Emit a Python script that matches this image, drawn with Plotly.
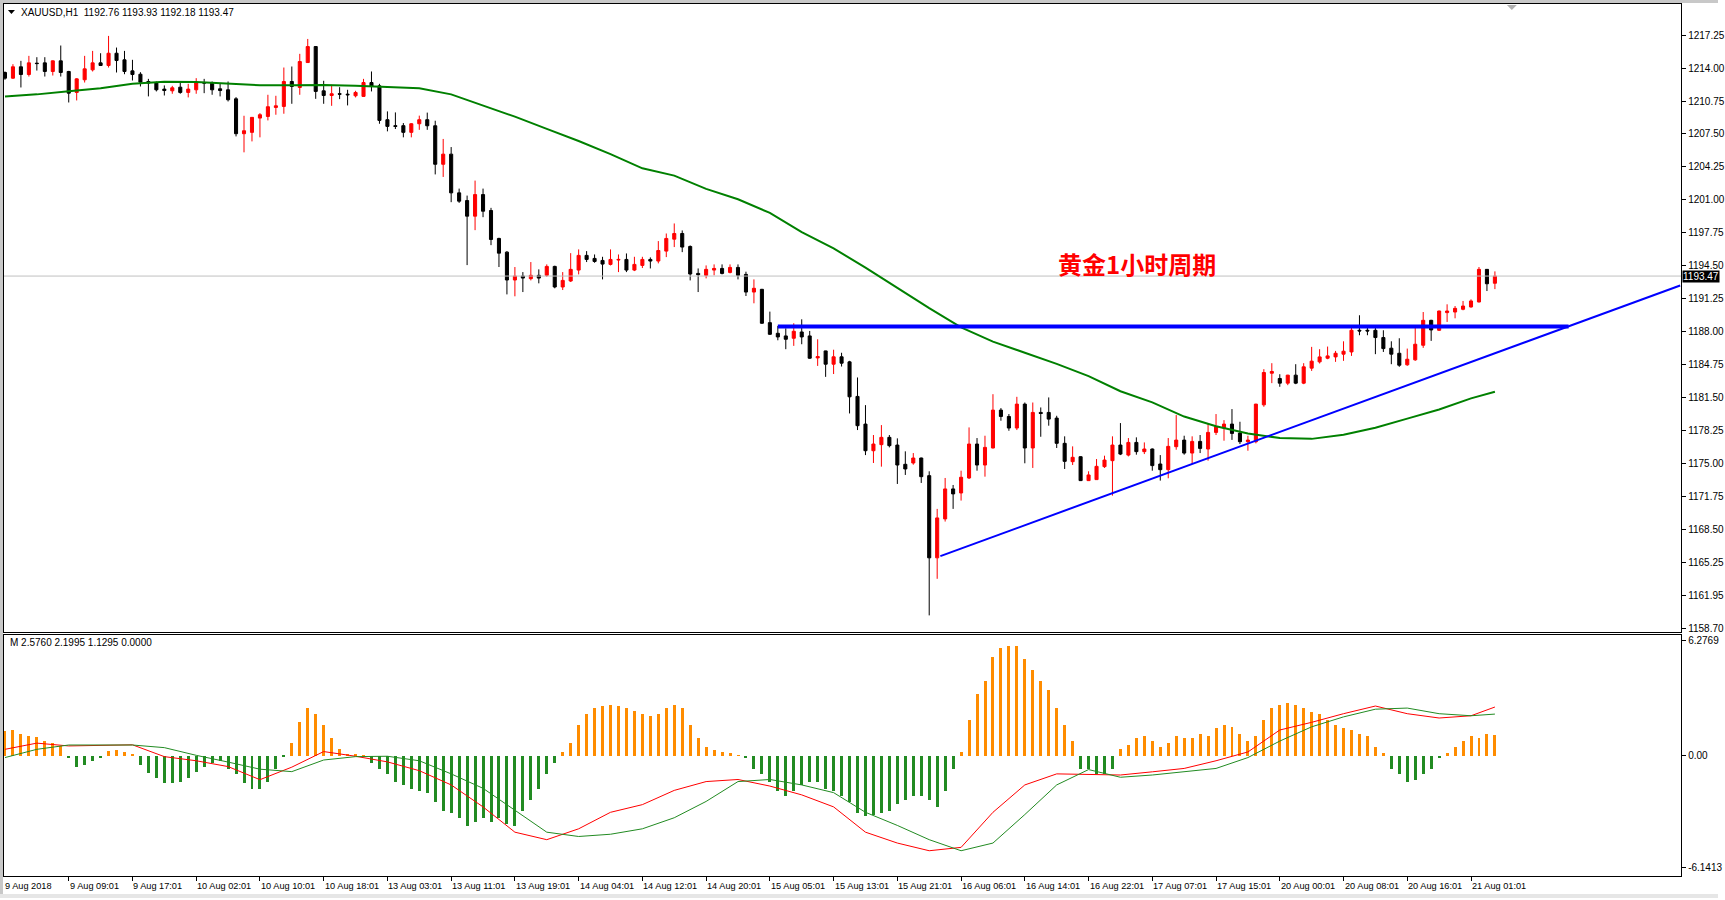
import plotly.graph_objects as go

W, H = 1725, 900

# ---------------- data ----------------
symbol_header = "XAUUSD,H1  1192.76 1193.93 1192.18 1193.47"
macd_header = "M 2.5760 2.1995 1.1295 0.0000"
title_text = "黄金1小时周期"

open_ = [1213.56, 1213.00, 1214.12, 1213.36, 1214.48, 1214.51, 1213.66, 1214.71, 1213.66, 1211.59,
         1212.84, 1213.82, 1214.51, 1214.25, 1215.46, 1214.81, 1213.72, 1213.39, 1212.67, 1212.51,
         1211.92, 1211.75, 1212.11, 1211.59, 1211.85, 1212.57, 1212.57, 1211.95, 1211.85, 1210.96,
         1207.52, 1207.65, 1209.06, 1209.22, 1210.11, 1210.21, 1212.67, 1212.08, 1214.54, 1216.12,
         1211.75, 1211.29, 1211.46, 1211.42, 1211.26, 1211.20, 1212.57, 1212.24, 1208.90, 1208.31,
         1208.31, 1207.65, 1208.50, 1208.90, 1208.30, 1204.50, 1205.50, 1201.68, 1200.92, 1199.38,
         1201.51, 1199.94, 1197.18, 1195.83, 1193.08, 1193.47, 1193.21, 1193.54, 1193.54, 1194.42,
         1192.39, 1192.98, 1194.06, 1195.51, 1195.21, 1195.01, 1194.62, 1195.05, 1195.11, 1194.06,
         1194.52, 1195.11, 1194.95, 1195.93, 1197.11, 1197.67, 1196.39, 1193.73, 1193.54, 1194.06,
         1194.22, 1193.83, 1194.32, 1193.63, 1191.89, 1192.16, 1188.87, 1187.82, 1187.56, 1187.33,
         1187.95, 1187.56, 1185.39, 1186.08, 1184.77, 1185.50, 1185.00, 1181.59, 1178.86, 1176.23,
         1176.83, 1177.55, 1176.79, 1174.89, 1175.02, 1175.51, 1173.77, 1165.66, 1169.50, 1172.46,
         1172.06, 1173.54, 1176.89, 1174.82, 1176.50, 1180.24, 1179.61, 1178.47, 1180.83, 1176.50,
         1180.01, 1180.01, 1179.45, 1176.96, 1175.15, 1175.64, 1173.28, 1173.38, 1174.66, 1175.25,
         1176.79, 1175.80, 1177.05, 1176.14, 1176.40, 1174.92, 1174.36, 1176.63, 1177.28, 1176.00,
         1177.15, 1176.40, 1178.04, 1178.47, 1178.86, 1177.97, 1177.12, 1177.12, 1180.76, 1183.88,
         1183.36, 1182.90, 1183.69, 1182.90, 1184.38, 1185.00, 1185.36, 1185.49, 1185.76, 1185.98,
         1188.12, 1188.12, 1188.12, 1187.40, 1186.35, 1185.85, 1184.71, 1185.20, 1186.64, 1189.10,
         1188.12, 1189.86, 1189.92, 1190.19, 1190.42, 1190.91, 1194.13, 1192.76]
high = [1213.66, 1214.38, 1214.71, 1215.20, 1215.07, 1215.07, 1214.75, 1216.22, 1213.72, 1213.00,
        1215.20, 1215.69, 1215.46, 1217.17, 1216.02, 1215.69, 1214.81, 1213.59, 1212.93, 1212.67,
        1212.28, 1212.24, 1212.67, 1212.44, 1213.00, 1212.93, 1212.67, 1212.51, 1212.67, 1211.13,
        1209.29, 1209.16, 1209.55, 1211.36, 1211.26, 1214.05, 1214.15, 1215.40, 1216.87, 1216.15,
        1212.74, 1212.34, 1212.11, 1211.85, 1211.75, 1212.93, 1213.66, 1212.44, 1209.72, 1209.62,
        1208.57, 1208.57, 1209.30, 1209.60, 1208.80, 1207.00, 1206.20, 1202.10, 1201.41, 1202.89,
        1202.10, 1200.20, 1197.25, 1195.93, 1194.36, 1193.86, 1194.85, 1194.13, 1194.62, 1194.49,
        1193.86, 1195.73, 1196.10, 1195.93, 1195.60, 1195.37, 1196.10, 1195.60, 1195.70, 1195.37,
        1195.37, 1195.31, 1196.92, 1197.67, 1198.66, 1197.97, 1196.49, 1194.22, 1194.52, 1194.62,
        1194.62, 1194.62, 1194.62, 1193.90, 1193.14, 1192.20, 1189.96, 1188.55, 1188.31, 1188.81,
        1189.20, 1188.05, 1187.23, 1186.10, 1186.20, 1185.90, 1185.10, 1183.46, 1180.73, 1177.78,
        1178.76, 1177.78, 1177.45, 1176.17, 1176.00, 1175.55, 1174.20, 1170.49, 1173.54, 1172.85,
        1174.26, 1178.53, 1177.48, 1177.71, 1181.81, 1180.44, 1179.85, 1181.55, 1180.99, 1180.99,
        1180.50, 1181.49, 1179.68, 1177.65, 1176.66, 1175.68, 1174.20, 1175.41, 1175.74, 1177.65,
        1178.96, 1177.48, 1177.55, 1177.05, 1176.45, 1175.80, 1177.48, 1179.75, 1177.71, 1177.65,
        1177.78, 1178.96, 1179.85, 1179.25, 1180.34, 1179.09, 1177.71, 1180.86, 1184.28, 1184.87,
        1183.78, 1183.72, 1184.77, 1184.87, 1186.48, 1186.25, 1186.51, 1186.08, 1187.03, 1188.38,
        1189.60, 1188.55, 1188.45, 1188.12, 1187.03, 1187.33, 1186.31, 1188.45, 1189.92, 1189.15,
        1190.05, 1190.68, 1190.51, 1191.01, 1191.17, 1194.36, 1194.16, 1193.93]
low = [1212.84, 1212.93, 1212.08, 1213.16, 1213.75, 1213.16, 1213.26, 1213.16, 1210.60, 1210.80,
       1212.57, 1213.66, 1214.25, 1214.05, 1213.56, 1213.39, 1212.77, 1212.18, 1211.20, 1211.69,
       1211.29, 1211.46, 1211.46, 1211.10, 1211.46, 1211.52, 1211.36, 1211.20, 1210.70, 1207.25,
       1205.68, 1206.76, 1207.16, 1208.83, 1209.39, 1209.49, 1210.47, 1211.36, 1214.50, 1210.96,
       1210.47, 1210.27, 1210.93, 1210.31, 1211.10, 1211.16, 1211.69, 1208.50, 1207.75, 1207.98,
       1207.16, 1207.16, 1207.90, 1207.90, 1203.50, 1203.25, 1200.76, 1200.69, 1194.55, 1198.00,
       1199.28, 1196.52, 1194.36, 1191.66, 1191.47, 1191.89, 1193.04, 1192.75, 1193.40, 1192.26,
       1192.09, 1192.88, 1193.63, 1194.85, 1194.78, 1193.14, 1194.52, 1193.86, 1193.86, 1193.96,
       1194.26, 1194.22, 1194.72, 1195.34, 1196.33, 1195.83, 1193.04, 1191.89, 1193.24, 1193.54,
       1193.63, 1193.73, 1193.14, 1191.50, 1190.78, 1188.75, 1187.66, 1187.13, 1186.25, 1186.58,
       1186.74, 1185.30, 1184.60, 1183.52, 1183.80, 1184.54, 1179.91, 1178.27, 1175.80, 1175.02,
       1174.66, 1176.56, 1172.95, 1173.84, 1174.85, 1173.05, 1159.98, 1163.59, 1169.24, 1170.49,
       1171.31, 1173.44, 1174.26, 1173.67, 1176.46, 1179.19, 1178.20, 1178.27, 1174.99, 1174.53,
       1177.61, 1178.70, 1176.50, 1174.43, 1174.82, 1173.24, 1173.24, 1173.34, 1174.53, 1171.80,
       1175.80, 1175.67, 1175.84, 1175.90, 1174.26, 1173.28, 1173.51, 1176.33, 1175.84, 1174.92,
       1176.00, 1175.25, 1177.78, 1177.22, 1177.30, 1176.89, 1176.23, 1176.96, 1180.57, 1182.90,
       1182.54, 1182.70, 1182.80, 1182.80, 1184.11, 1184.84, 1185.26, 1185.00, 1185.10, 1185.59,
       1187.63, 1187.63, 1185.76, 1185.98, 1184.77, 1184.51, 1184.61, 1185.10, 1186.38, 1187.07,
       1188.05, 1188.94, 1189.30, 1190.09, 1190.35, 1190.87, 1191.99, 1192.18]
close = [1213.00, 1214.12, 1213.36, 1214.51, 1214.44, 1213.66, 1214.71, 1213.56, 1211.52, 1212.93,
         1213.92, 1214.51, 1214.25, 1215.46, 1214.74, 1213.66, 1213.36, 1212.60, 1212.51, 1211.85,
         1211.78, 1212.05, 1211.59, 1211.92, 1212.57, 1212.51, 1211.85, 1211.78, 1210.87, 1207.52,
         1207.81, 1209.13, 1209.39, 1210.18, 1210.27, 1212.67, 1212.18, 1214.64, 1216.12, 1211.69,
         1211.29, 1211.46, 1211.42, 1211.36, 1211.59, 1212.57, 1212.18, 1208.83, 1208.24, 1208.24,
         1207.65, 1208.50, 1208.90, 1208.30, 1204.50, 1205.50, 1201.68, 1200.86, 1199.38, 1201.51,
         1199.87, 1197.08, 1195.73, 1193.08, 1193.47, 1193.27, 1193.54, 1193.27, 1194.42, 1192.39,
         1193.04, 1194.13, 1195.51, 1195.11, 1194.91, 1194.65, 1195.11, 1195.11, 1194.06, 1194.62,
         1195.11, 1194.95, 1195.99, 1197.18, 1197.67, 1196.33, 1193.67, 1193.60, 1194.13, 1194.22,
         1193.73, 1194.32, 1193.54, 1191.89, 1192.26, 1188.81, 1187.72, 1187.46, 1187.23, 1188.02,
         1187.46, 1185.36, 1185.52, 1184.77, 1185.50, 1184.87, 1181.55, 1178.70, 1176.23, 1176.89,
         1177.55, 1176.73, 1174.82, 1174.43, 1175.51, 1173.67, 1165.66, 1169.60, 1172.46, 1171.97,
         1173.61, 1176.89, 1174.82, 1176.56, 1180.24, 1179.61, 1178.47, 1180.83, 1176.50, 1180.01,
         1179.91, 1179.35, 1176.96, 1175.18, 1175.58, 1173.28, 1173.84, 1174.69, 1175.31, 1176.79,
         1175.90, 1177.05, 1176.14, 1176.40, 1174.76, 1174.36, 1176.66, 1177.28, 1176.00, 1177.15,
         1176.46, 1178.04, 1178.60, 1178.86, 1177.94, 1177.12, 1177.28, 1180.83, 1183.95, 1184.05,
         1182.90, 1183.69, 1182.90, 1184.51, 1185.07, 1185.49, 1185.59, 1185.85, 1186.05, 1188.12,
         1188.05, 1188.05, 1187.40, 1186.31, 1185.76, 1184.67, 1185.26, 1186.74, 1189.10, 1188.15,
         1190.02, 1190.02, 1190.28, 1190.51, 1191.01, 1194.13, 1192.71, 1193.47]

# moving average (read every 4 bars)
ma_bar = [0, 4, 8, 12, 16, 20, 24, 28, 32, 36, 40, 44, 48, 52, 56, 60, 64, 68, 72, 76,
          80, 84, 88, 92, 96, 100, 104, 108, 112, 116, 120, 124, 128, 132, 136, 140, 144, 148,
          152, 156, 160, 164, 168, 172, 176, 180, 184, 187]
ma_val = [1211.20, 1211.40, 1211.70, 1212.00, 1212.45, 1212.65, 1212.62, 1212.45, 1212.30, 1212.30,
          1212.32, 1212.25, 1212.15, 1212.00, 1211.40, 1210.30, 1209.20, 1208.00, 1206.80, 1205.50,
          1204.10, 1203.38, 1202.07, 1201.05, 1199.70, 1197.80, 1196.20, 1194.30, 1192.30, 1190.30,
          1188.40, 1187.00, 1185.90, 1184.80, 1183.60, 1182.10, 1181.00, 1179.60, 1178.65, 1177.94,
          1177.48, 1177.40, 1177.80, 1178.50, 1179.40, 1180.30, 1181.40, 1182.05]

# MACD-style oscillator
hist = [1.33, 1.37, 1.15, 1.05, 1.01, 0.80, 0.66, 0.51,
        -0.14, -0.59, -0.48, -0.27, -0.11,
        0.25, 0.30, 0.20, 0.04,
        -0.48, -0.92, -1.17, -1.46, -1.46, -1.40, -1.17, -0.88, -0.59, -0.41, -0.29, -0.70, -0.99,
        -1.46, -1.76, -1.76, -1.40, -0.70, -0.06,
        0.70, 1.81, 2.52, 2.22, 1.64, 0.94, 0.35, 0.10, 0.05, 0.02,
        -0.41, -0.70, -0.99, -1.40, -1.58, -1.76, -1.87, -1.99, -2.46, -2.93, -3.04, -3.33, -3.74,
        -3.51, -3.33, -3.51, -3.33, -3.63, -3.74, -2.93, -2.34, -1.76, -0.99, -0.41,
        0.18, 0.70, 1.64, 2.22, 2.52, 2.63, 2.69, 2.63, 2.52, 2.40, 2.22, 2.11, 2.22, 2.52, 2.69,
        2.52, 1.64, 0.94, 0.47, 0.29, 0.18, 0.12, 0.03,
        -0.12, -0.70, -0.99, -1.40, -1.87, -2.16, -1.87, -1.58, -1.40, -1.40, -1.76, -1.87, -2.16,
        -2.46, -3.04, -3.22, -3.16, -3.04, -2.93, -2.57, -2.34, -2.16, -2.16, -2.34, -2.75, -1.87,
        -0.70,
        0.18, 1.93, 3.28, 3.98, 5.27, 5.73, 5.85, 5.85, 5.15, 4.56, 3.98, 3.51, 2.52, 1.64, 0.76,
        -0.70, -0.70, -0.99, -0.99, -0.70,
        0.35, 0.59, 0.94, 1.05, 0.76, 0.47, 0.70, 1.05, 0.94, 0.94, 1.17, 1.05, 1.46, 1.64, 1.52,
        1.17, 0.76, 1.05, 1.93, 2.52, 2.69, 2.81, 2.69, 2.52, 2.34, 2.22, 1.93, 1.64, 1.46, 1.35,
        1.17, 1.05, 0.47, 0.12,
        -0.70, -0.99, -1.40, -1.29, -0.99, -0.70, -0.12,
        0.12, 0.47, 0.76, 1.05, 0.94, 1.17, 1.13]
osc_bar = ma_bar
macd_line = [0.32, 0.65, 0.50, 0.51, 0.56, -0.07, -0.29, -0.60, -1.30, -0.63, 0.20, -0.05,
             -0.35, -0.82, -1.58, -2.75, -4.10, -4.50, -3.92, -3.04, -2.63, -1.87, -1.40, -1.29,
             -1.64, -2.11, -2.75, -4.10, -4.68, -5.09, -4.91, -3.04, -1.58, -0.99, -1.00, -1.05,
             -0.88, -0.70, -0.29, 0.18, 1.35, 1.76, 2.22, 2.63, 2.22, 1.99, 2.11, 2.576]
signal_line = [-0.12, 0.32, 0.55, 0.55, 0.55, 0.41, 0.00, -0.36, -0.74, -0.87, -0.25, -0.07,
               -0.05, -0.29, -0.99, -1.76, -2.93, -4.10, -4.33, -4.21, -3.92, -3.33, -2.46, -1.40,
               -1.29, -1.58, -1.99, -3.04, -3.74, -4.50, -5.09, -4.68, -3.16, -1.58, -0.76, -1.17,
               -1.05, -0.88, -0.70, -0.12, 0.76, 1.52, 2.05, 2.46, 2.52, 2.22, 2.11, 2.1995]

# drawn objects (price levels / trendline anchors, in bar index and price)
resistance_start, resistance_end, resistance_level = 97.0, 196.25, 1188.5
trend_bars = [117.4, 210.25]
trend_prices = [1165.83, 1192.54]
bid_price = 1193.47
bid_label = "1193.47"
title_bar, title_price = 142, 1194.75

price_ticks = [1217.25 - 3.2528 * k for k in range(19)]
price_labels = ["1217.25", "1214.00", "1210.75", "1207.50", "1204.25", "1201.00", "1197.75",
                "1194.50", "1191.25", "1188.00", "1184.75", "1181.50", "1178.25", "1175.00",
                "1171.75", "1168.50", "1165.25", "1161.95", "1158.70"]
time_labels = ["9 Aug 2018", "9 Aug 09:01", "9 Aug 17:01", "10 Aug 02:01", "10 Aug 10:01",
               "10 Aug 18:01", "13 Aug 03:01", "13 Aug 11:01", "13 Aug 19:01", "14 Aug 04:01",
               "14 Aug 12:01", "14 Aug 20:01", "15 Aug 05:01", "15 Aug 13:01", "15 Aug 21:01",
               "16 Aug 06:01", "16 Aug 14:01", "16 Aug 22:01", "17 Aug 07:01", "17 Aug 15:01",
               "20 Aug 00:01", "20 Aug 08:01", "20 Aug 16:01", "21 Aug 01:01"]
label_step = 8

# ---------------- geometry ----------------
PX_L, PX_R = 4, 1688
MAIN_T, MAIN_B = 4, 633
SUB_T, SUB_B = 636, 878
X_RANGE = [-0.125, 210.375]
Y_RANGE = [1158.38, 1220.32]
OSC_RANGE = [-6.44, 6.44]


def fx(px):
    return px / W


def fy(py):
    return 1 - py / H


bars = list(range(len(close)))
FONT = "Liberation Sans, Arial, sans-serif"

fig = go.Figure()

# bid line
fig.add_trace(go.Scatter(x=X_RANGE, y=[bid_price, bid_price], mode="lines",
                         line=dict(color="#c0c0c0", width=1), hoverinfo="skip",
                         xaxis="x", yaxis="y", showlegend=False))

fig.add_trace(go.Candlestick(
    x=bars, open=open_, high=high, low=low, close=close,
    increasing=dict(line=dict(color="#ff0000", width=1), fillcolor="#ff0000"),
    decreasing=dict(line=dict(color="#000000", width=1), fillcolor="#000000"),
    whiskerwidth=0, hoverinfo="skip", xaxis="x", yaxis="y", showlegend=False))

fig.add_trace(go.Scatter(x=ma_bar, y=ma_val, mode="lines",
                         line=dict(color="#008000", width=2), hoverinfo="skip",
                         xaxis="x", yaxis="y", showlegend=False))

fig.add_trace(go.Scatter(x=[resistance_start, resistance_end],
                         y=[resistance_level, resistance_level], mode="lines",
                         line=dict(color="#0000ff", width=4), hoverinfo="skip",
                         xaxis="x", yaxis="y", showlegend=False))
fig.add_trace(go.Scatter(x=trend_bars, y=trend_prices, mode="lines",
                         line=dict(color="#0000ff", width=2), hoverinfo="skip",
                         xaxis="x", yaxis="y", showlegend=False))

# oscillator
fig.add_trace(go.Bar(x=bars, y=hist, width=0.375,
                     marker=dict(color=["#ff8c00" if v >= 0 else "#228b22" for v in hist],
                                 line=dict(width=0)),
                     hoverinfo="skip", xaxis="x2", yaxis="y2", showlegend=False))
fig.add_trace(go.Scatter(x=osc_bar, y=macd_line, mode="lines",
                         line=dict(color="#ff0000", width=1), hoverinfo="skip",
                         xaxis="x2", yaxis="y2", showlegend=False))
fig.add_trace(go.Scatter(x=osc_bar, y=signal_line, mode="lines",
                         line=dict(color="#228b22", width=1), hoverinfo="skip",
                         xaxis="x2", yaxis="y2", showlegend=False))

axis_common = dict(showgrid=False, zeroline=False, showline=True, mirror=True,
                   linecolor="black", linewidth=1, fixedrange=True)

osc_top_v = (757 - 642) / 18.8
osc_bot_v = (757 - 870) / 18.8

annotations = []
for k, lbl in enumerate(time_labels):
    annotations.append(dict(x=k * label_step, y=fy(888), xref="x2", yref="paper",
                            text=lbl, showarrow=False, xanchor="left", yanchor="middle",
                            xshift=(-2 if k == 0 else -1),
                            font=dict(family=FONT, size=9.2, color="black")))
annotations += [
    dict(x=fx(19), y=fy(13), xref="paper", yref="paper", text=symbol_header,
         showarrow=False, xanchor="left", yanchor="middle",
         font=dict(family=FONT, size=10, color="black")),
    dict(x=fx(8), y=fy(644), xref="paper", yref="paper", text=macd_header,
         showarrow=False, xanchor="left", yanchor="middle",
         font=dict(family=FONT, size=10, color="black")),
    dict(x=fx(PX_R + 1), y=bid_price, xref="paper", yref="y", text=bid_label,
         showarrow=False, xanchor="left", yanchor="middle", bgcolor="black",
         borderpad=0, font=dict(family=FONT, size=10, color="white")),
    dict(x=title_bar, y=title_price, xref="x", yref="y", text="<b>" + title_text + "</b>",
         showarrow=False, xanchor="center", yanchor="middle", xshift=1,
         font=dict(family="Noto Sans CJK SC", size=24, color="#ff0000")),
]

shapes = [
    dict(type="rect", xref="paper", yref="paper", x0=0, x1=1, y0=0, y1=fy(896),
         fillcolor="#e6e6e6", line=dict(width=0), layer="below"),
    dict(type="rect", xref="paper", yref="paper", x0=0, x1=fx(3), y0=fy(896), y1=1,
         fillcolor="#c8c8c8", line=dict(width=0), layer="below"),
    dict(type="rect", xref="paper", yref="paper", x0=0, x1=1, y0=fy(3), y1=1,
         fillcolor="#c8c8c8", line=dict(width=0), layer="below"),
    dict(type="path", xref="paper", yref="paper",
         path=f"M {fx(8)} {fy(10)} L {fx(15)} {fy(10)} L {fx(11.5)} {fy(14)} Z",
         fillcolor="black", line=dict(width=0)),
    dict(type="path", xref="paper", yref="paper",
         path=f"M {fx(1513)} {fy(5)} L {fx(1523)} {fy(5)} L {fx(1518)} {fy(10)} Z",
         fillcolor="#b0b0b0", line=dict(width=0)),
]

fig.update_layout(
    width=W, height=H, autosize=False,
    margin=dict(l=0, r=0, t=0, b=0, pad=0),
    paper_bgcolor="white", plot_bgcolor="white",
    boxgap=0.45,
    bargap=0,
    showlegend=False,
    xaxis=dict(domain=[fx(PX_L), fx(PX_R)], range=X_RANGE, anchor="y",
               showticklabels=False, ticks="", rangeslider=dict(visible=False), **axis_common),
    yaxis=dict(domain=[fy(MAIN_B), fy(MAIN_T)], range=Y_RANGE, anchor="x", side="right",
               tickmode="array", tickvals=price_ticks, ticktext=price_labels,
               ticks="outside", ticklen=4, tickcolor="black",
               tickfont=dict(family=FONT, size=10, color="black"), **axis_common),
    xaxis2=dict(domain=[fx(PX_L), fx(PX_R)], range=X_RANGE, anchor="y2",
                tickmode="array", tickvals=[k * label_step for k in range(1, len(time_labels))],
                showticklabels=False, ticks="outside", ticklen=4, tickcolor="black",
                rangeslider=dict(visible=False), **axis_common),
    yaxis2=dict(domain=[fy(SUB_B), fy(SUB_T)], range=OSC_RANGE, anchor="x2", side="right",
                tickmode="array", tickvals=[osc_top_v, 0, osc_bot_v],
                ticktext=["6.2769", "0.00", "-6.1413"],
                ticks="outside", ticklen=4, tickcolor="black",
                tickfont=dict(family=FONT, size=10, color="black"), **axis_common),
    annotations=annotations,
    shapes=shapes,
)

fig.write_html("out.html")
